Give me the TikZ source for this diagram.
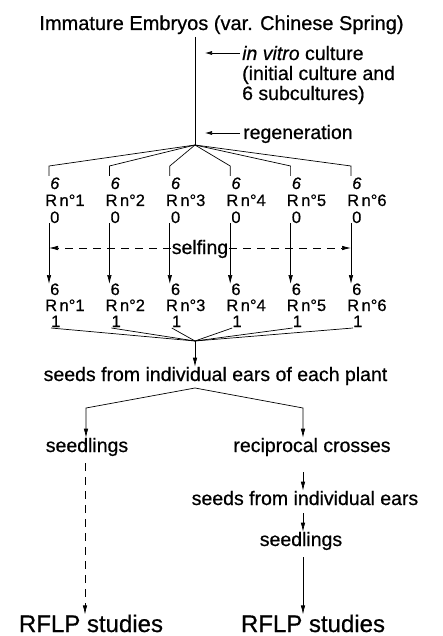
\documentclass[tikz,border=0pt]{standalone}
\usepackage{fontspec}
\setmainfont{Liberation Sans}[FakeBold=0.6]
\usetikzlibrary{arrows.meta}
\begin{document}
\begin{tikzpicture}[x=1pt,y=-1pt,
  txt/.style={inner sep=0pt,font=\fontsize{19.5}{22}\selectfont},
  lab/.style={inner sep=0pt,font=\fontsize{16.5}{19}\selectfont},
  big/.style={inner sep=0pt,font=\fontsize{24}{28}\selectfont},
  ln/.style={line width=0.7pt},
  arr/.style={line width=0.7pt,-{Latex[length=9pt,width=4.5pt]}},
  dsh/.style={line width=0.7pt,dash pattern=on 8pt off 6pt},
  ]
\useasboundingbox (0,0) rectangle (443,636);
% title and culture steps
\node[txt,font=\fontsize{20}{24}\selectfont,anchor=base] (title) at (221.5,30) {Immature Embryos (var. Chinese Spring)};
\coordinate (top) at (195,37);
\coordinate (fan) at (195,145);
\draw[ln] (top) -- (fan);
\node[txt,anchor=base west] (ivc) at (242,60) {\textit{in vitro} culture};
\node[txt,anchor=base west] (ivc2) at (242,80) {(initial culture and};
\node[txt,anchor=base west] (ivc3) at (242,100) {6 subcultures)};
\node[txt,anchor=base west] (regen) at (243,139) {regeneration};
\coordinate (ivctip) at (205,53);
\coordinate (regtip) at (205,133);
\draw[arr,-{Latex[length=7pt,width=4pt]}] (ivc.west |- ivctip) ++(-2,0) -- (ivctip);
\draw[arr,-{Latex[length=7pt,width=4pt]}] (regen.west |- regtip) ++(-3,0) -- (regtip);
% columns
\foreach \i in {1,...,6}{
  \pgfmathsetmacro{\xr}{45+60.4*(\i-1)}
  \pgfmathsetmacro{\xl}{\xr+4}
  % generation 0
  \coordinate (bend\i) at (\xl,166);
  \coordinate (foot\i) at (\xl,176);
  \draw[ln] (fan) -- (bend\i) -- (foot\i);
  \node[lab,anchor=base west] (sa\i) at (\xr+5,189) {\textit{6}};
  \node[lab,anchor=base west] (ra\i) at (\xr,206) {R\hspace{2.5pt}n°\i};
  \node[lab,anchor=base west] (za\i) at (\xr+5,223) {0};
  % selfing arrow
  \coordinate (st\i) at (\xl,223);
  \coordinate (se\i) at (\xl,284);
  \draw[arr] (st\i) -- (se\i);
  % generation 1
  \node[lab,anchor=base west] (sb\i) at (\xr+5,295) {6};
  \node[lab,anchor=base west] (rb\i) at (\xr,311) {R\hspace{2.5pt}n°\i};
  \node[lab,anchor=base west] (ob\i) at (\xr+6,327) {1};
  \coordinate (cv\i) at (\xl+2,328);
}
% selfing dashed double arrow
\node[txt,fill=white,inner xsep=1pt,anchor=base] (self) at (200,254) {selfing};
\coordinate (sl) at (49,248);
\coordinate (sr) at (351,248);
\draw[dsh,-{Latex[length=9pt,width=4.5pt]}] (self.west |- sl) -- (sl);
\draw[dsh,-{Latex[length=9pt,width=4.5pt]}] (self.east |- sr) -- (sr);
% converge
\coordinate (conv) at (195,341);
\foreach \i in {1,...,6}{\draw[ln] (cv\i) -- (conv);}
\node[txt,anchor=base] (seeds) at (215.5,381) {seeds from individual ears of each plant};
\draw[arr] (conv) -- (seeds.north -| conv);
% split
\coordinate (split) at (195,388);
\coordinate (lb) at (86,408);
\coordinate (rbd) at (303,408);
\node[txt,anchor=base] (seedl) at (87,452) {seedlings};
\node[txt,anchor=base] (recip) at (312,452) {reciprocal crosses};
\draw[arr] (split) -- (lb) -- (lb |- seedl.north);
\draw[arr] (split) -- (rbd) -- (rbd |- recip.north);
% right chain
\node[txt,anchor=base] (sfe) at (305,505) {seeds from individual ears};
\node[txt,anchor=base] (seedr) at (301,546) {seedlings};
\node[big,anchor=base] (rflpl) at (91,632) {RFLP studies};
\node[big,anchor=base] (rflpr) at (313,632) {RFLP studies};
\coordinate (r1) at (303,472);
\coordinate (r2) at (303,513);
\coordinate (r3) at (303,557);
\draw[arr] (r1) -- (sfe.north -| r1);
\draw[arr] (r2) -- (seedr.north -| r2);
\draw[arr] (r3) -- (rflpr.north -| r3);
% left dashed
\coordinate (l1) at (85,463);
\draw[dsh,-{Latex[length=9pt,width=4.5pt]}] (l1) -- (rflpl.north -| l1);
\end{tikzpicture}
\end{document}
